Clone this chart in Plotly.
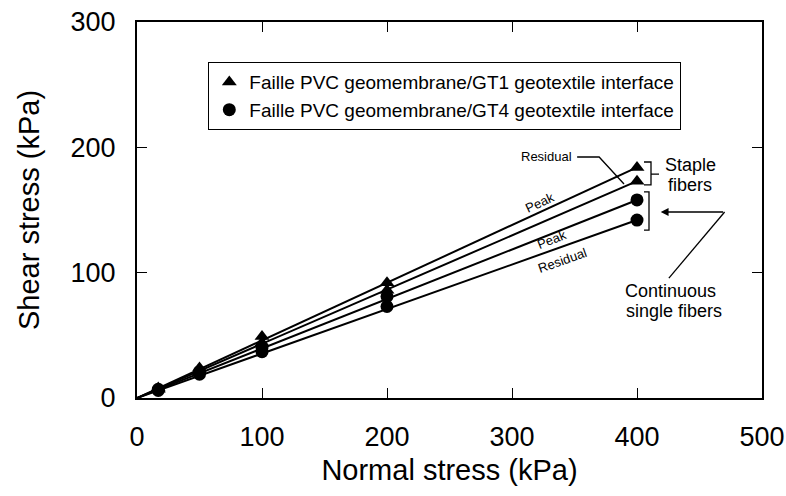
import plotly.graph_objects as go

# --- data ---
normal_stress = [17, 50, 100, 200, 400]

gt1_peak = [8, 24, 49, 92, 184]
gt1_residual = [7, 22, 44, 86, 173]
gt4_peak = [7, 21, 40, 81, 158]
gt4_residual = [6, 19, 37, 73, 142]

# fitted envelopes (through origin), end values at 400 kPa
fit_x = [0, 400]
fit_gt1_peak = [0, 184]
fit_gt1_residual = [0, 173]
fit_gt4_peak = [0, 158]
fit_gt4_residual = [0, 142]

legend_names = [
    "Faille PVC geomembrane/GT1 geotextile interface",
    "Faille PVC geomembrane/GT4 geotextile interface",
]

FONT = "Liberation Sans, Arial, Helvetica, sans-serif"

fig = go.Figure()

# envelopes
for fy in [fit_gt1_peak, fit_gt1_residual, fit_gt4_peak, fit_gt4_residual]:
    fig.add_trace(
        go.Scatter(
            x=fit_x, y=fy, mode="lines",
            line=dict(color="black", width=2),
            showlegend=False, hoverinfo="skip",
        )
    )

# measured points
series = [
    (gt1_peak, "triangle-up", legend_names[0], True, "gt1"),
    (gt1_residual, "triangle-up", legend_names[0], False, "gt1"),
    (gt4_peak, "circle", legend_names[1], True, "gt4"),
    (gt4_residual, "circle", legend_names[1], False, "gt4"),
]
for ys, sym, name, show, grp in series:
    fig.add_trace(
        go.Scatter(
            x=normal_stress, y=ys, mode="markers", name=name,
            legendgroup=grp, showlegend=show,
            marker=dict(symbol=sym, size=13, color="black"),
        )
    )

# line labels
labels = [
    ("Residual", 327.7, 193.0, 0),
    ("Peak", 322.6, 155.6, -24.7),
    ("Peak", 332.1, 126.1, -21.6),
    ("Residual", 340.1, 110.1, -19.5),
]
for txt, ax_, ay_, ang in labels:
    fig.add_annotation(
        x=ax_, y=ay_, text=txt, showarrow=False, textangle=ang,
        font=dict(size=13, color="black", family=FONT),
    )

side_text = [
    ("Staple", 442.5, 186.0),
    ("fibers", 442.5, 170.0),
    ("Continuous", 426.5, 85.6),
    ("single fibers", 429.5, 69.6),
]
for txt, ax_, ay_ in side_text:
    fig.add_annotation(
        x=ax_, y=ay_, text=txt, showarrow=False,
        font=dict(size=18, color="black", family=FONT),
    )

# leader lines, brackets and arrow
line_style = dict(color="black", width=1.3)
fig.add_shape(type="path", path="M 352.1 192.3 L 369.7 192.3 L 389.6 170.7",
              line=line_style)
fig.add_shape(type="path",
              path="M 405.6 188.3 L 411.2 188.3 L 411.2 170.0 L 405.6 170.0 "
                   "M 411.2 178.7 L 417.6 178.7",
              line=line_style)
fig.add_shape(type="path",
              path="M 405.6 164.4 L 409.6 164.4 L 409.6 134.0 L 405.6 134.0",
              line=line_style)
fig.add_shape(type="line", x0=470.1, y0=148.4, x1=425.5, y1=95.7, line=line_style)
fig.add_annotation(
    x=419.0, y=148.4, ax=470.1, ay=148.4, axref="x", ayref="y",
    text="", showarrow=True, arrowhead=2, arrowsize=1.2, arrowwidth=1.3,
    arrowcolor="black",
)

fig.update_layout(
    width=786, height=496,
    paper_bgcolor="white", plot_bgcolor="white",
    margin=dict(l=137, r=24, t=22, b=98),
    font=dict(family=FONT, color="black"),
    showlegend=True,
    legend=dict(
        x=0.1136, y=0.894, xanchor="left", yanchor="top",
        bgcolor="white", bordercolor="black", borderwidth=1.3,
        font=dict(size=19, family=FONT, color="black"),
        tracegroupgap=0, itemsizing="trace",
    ),
    xaxis=dict(
        range=[0, 500], tickvals=[0, 100, 200, 300, 400, 500],
        ticks="inside", ticklen=10, tickwidth=1.3, tickcolor="black",
        showline=True, linecolor="black", linewidth=2, mirror="ticks",
        showgrid=False, zeroline=False, automargin=False,
        tickfont=dict(size=27, family=FONT), ticklabelstandoff=14,
        title=dict(text="Normal stress (kPa)", font=dict(size=29, family=FONT),
                   standoff=8),
    ),
    yaxis=dict(
        range=[0, 300], tickvals=[0, 100, 200, 300],
        ticks="inside", ticklen=10, tickwidth=1.3, tickcolor="black",
        showline=True, linecolor="black", linewidth=2, mirror="ticks",
        showgrid=False, zeroline=False, automargin=False,
        tickfont=dict(size=27, family=FONT), ticklabelstandoff=14,
        title=dict(text="Shear stress (kPa)", font=dict(size=29, family=FONT),
                   standoff=22),
    ),
)

# drop the default 8px page margin so the figure fills the window exactly
fig.write_html(
    "out.html",
    config={"displayModeBar": False},
    post_script="document.body.style.margin='0';",
)
